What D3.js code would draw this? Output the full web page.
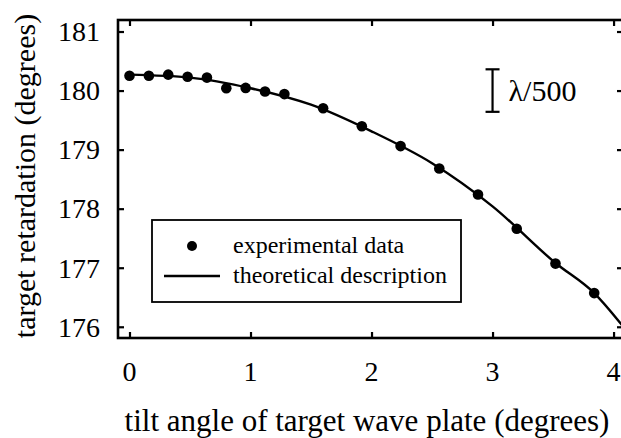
<!DOCTYPE html>
<html>
<head>
<meta charset="utf-8">
<script src="https://cdn.jsdelivr.net/npm/d3@7"></script>
<style>
  body { margin: 0; background: #fff; }
</style>
</head>
<body>
<div id="chart"></div>
<script>
// measured data points
const tiltAngle = [0, 0.16, 0.32, 0.48, 0.64, 0.80, 0.96, 1.12, 1.28, 1.60, 1.92, 2.24, 2.56, 2.88, 3.20, 3.52, 3.84];
const retardation = [180.25, 180.25, 180.27, 180.235, 180.22, 180.04, 180.045, 179.985, 179.94, 179.70, 179.395, 179.06, 178.68, 178.24, 177.66, 177.07, 176.57];

// theoretical curve
const theoryAngle = [0, 0.5, 1.0, 1.5, 2.0, 2.5, 3.0, 3.52, 3.84, 4.1];
const theoryRetardation = [180.27, 180.22, 180.04, 179.76, 179.31, 178.77, 178.04, 177.08, 176.57, 175.95];

const xTicks = [0, 1, 2, 3, 4];
const yTicks = [176, 177, 178, 179, 180, 181];

// lambda/500 scale bar (360/500 = 0.72 deg)
const barX = 3.0;
const barRange = [179.64, 180.36];
const barLabel = "\u03bb/500";

const legendLabels = ["experimental data", "theoretical description"];

const FONT = "'Liberation Serif', 'Times New Roman', Times, 'DejaVu Serif', serif";

const W = 621, H = 438;
const margin = {top: 20, right: -2, bottom: 100, left: 118};
const width = W - margin.left - margin.right;
const height = H - margin.top - margin.bottom;

const svg = d3.select("#chart").append("svg")
    .attr("width", W)
    .attr("height", H)
    .attr("font-family", FONT);

const g = svg.append("g")
    .attr("transform", `translate(${margin.left},${margin.top})`);

const x = d3.scaleLinear().domain([-0.095, 4.078]).range([0, width]);
const y = d3.scaleLinear().domain([175.81, 181.195]).range([height, 0]);

g.append("clipPath").attr("id", "plot-clip")
  .append("rect").attr("width", width).attr("height", height);

// ticks on all four sides, pointing inward
const tickLen = 6;
g.append("g").attr("transform", `translate(0,${height})`)
    .call(d3.axisBottom(x).tickValues(xTicks).tickSizeInner(-tickLen).tickSizeOuter(0).tickFormat(""));
g.append("g")
    .call(d3.axisTop(x).tickValues(xTicks).tickSizeInner(-tickLen).tickSizeOuter(0).tickFormat(""));
g.append("g")
    .call(d3.axisLeft(y).tickValues(yTicks).tickSizeInner(-tickLen).tickSizeOuter(0).tickFormat(""));
g.append("g").attr("transform", `translate(${width},0)`)
    .call(d3.axisRight(y).tickValues(yTicks).tickSizeInner(-tickLen).tickSizeOuter(0).tickFormat(""));
g.selectAll(".domain").remove();
g.selectAll(".tick line").attr("stroke", "#000").attr("stroke-width", 2.2);

// tick labels
g.selectAll(".xlab").data(xTicks).join("text")
    .attr("class", "xlab")
    .attr("x", d => x(d))
    .attr("y", height + 43)
    .attr("text-anchor", "middle")
    .attr("font-family", FONT)
    .attr("font-size", 28)
    .text(d => d);

g.selectAll(".ylab").data(yTicks).join("text")
    .attr("class", "ylab")
    .attr("x", -18)
    .attr("y", d => y(d))
    .attr("dy", "0.35em")
    .attr("text-anchor", "end")
    .attr("font-family", FONT)
    .attr("font-size", 28)
    .text(d => d);

// frame
g.append("rect")
    .attr("width", width)
    .attr("height", height)
    .attr("fill", "none")
    .attr("stroke", "#000")
    .attr("stroke-width", 2.6);

// theory curve
const line = d3.line()
    .curve(d3.curveMonotoneX)
    .x((d, i) => x(theoryAngle[i]))
    .y(d => y(d));

g.append("path")
    .datum(theoryRetardation)
    .attr("clip-path", "url(#plot-clip)")
    .attr("fill", "none")
    .attr("stroke", "#000")
    .attr("stroke-width", 2.4)
    .attr("d", line);

// data points
g.selectAll(".pt").data(retardation).join("circle")
    .attr("class", "pt")
    .attr("cx", (d, i) => x(tiltAngle[i]))
    .attr("cy", d => y(d))
    .attr("r", 5.3)
    .attr("fill", "#000");

// lambda/500 bar
const bx = x(barX);
g.append("line")
    .attr("x1", bx).attr("x2", bx)
    .attr("y1", y(barRange[0])).attr("y2", y(barRange[1]))
    .attr("stroke", "#000").attr("stroke-width", 2.2);
barRange.forEach(v => {
    g.append("line")
        .attr("x1", bx - 7).attr("x2", bx + 7)
        .attr("y1", y(v)).attr("y2", y(v))
        .attr("stroke", "#000").attr("stroke-width", 2.2);
});
g.append("text")
    .attr("x", bx + 16)
    .attr("y", y(d3.mean(barRange)))
    .attr("dy", "0.35em")
    .attr("font-family", FONT)
    .attr("font-size", 30)
    .text(barLabel);

// legend
const legend = g.append("g").attr("transform", `translate(${152 - margin.left},${220 - margin.top})`);
legend.append("rect")
    .attr("width", 309)
    .attr("height", 82)
    .attr("fill", "#fff")
    .attr("stroke", "#000")
    .attr("stroke-width", 1.8);
legend.append("circle")
    .attr("cx", 40).attr("cy", 26).attr("r", 5)
    .attr("fill", "#000");
legend.append("line")
    .attr("x1", 12).attr("x2", 68)
    .attr("y1", 56).attr("y2", 56)
    .attr("stroke", "#000").attr("stroke-width", 2.4);
legend.selectAll(".leg").data(legendLabels).join("text")
    .attr("class", "leg")
    .attr("x", 81)
    .attr("y", (d, i) => 33 + i * 30)
    .attr("font-family", FONT)
    .attr("font-size", 24)
    .text(d => d);

// axis titles
svg.append("text")
    .attr("x", 367)
    .attr("y", 431)
    .attr("text-anchor", "middle")
    .attr("font-family", FONT)
    .attr("font-size", 31)
    .text("tilt angle of target wave plate (degrees)");

svg.append("text")
    .attr("transform", `translate(35,${176}) rotate(-90)`)
    .attr("text-anchor", "middle")
    .attr("font-family", FONT)
    .attr("font-size", 30)
    .text("target retardation (degrees)");
</script>
</body>
</html>
